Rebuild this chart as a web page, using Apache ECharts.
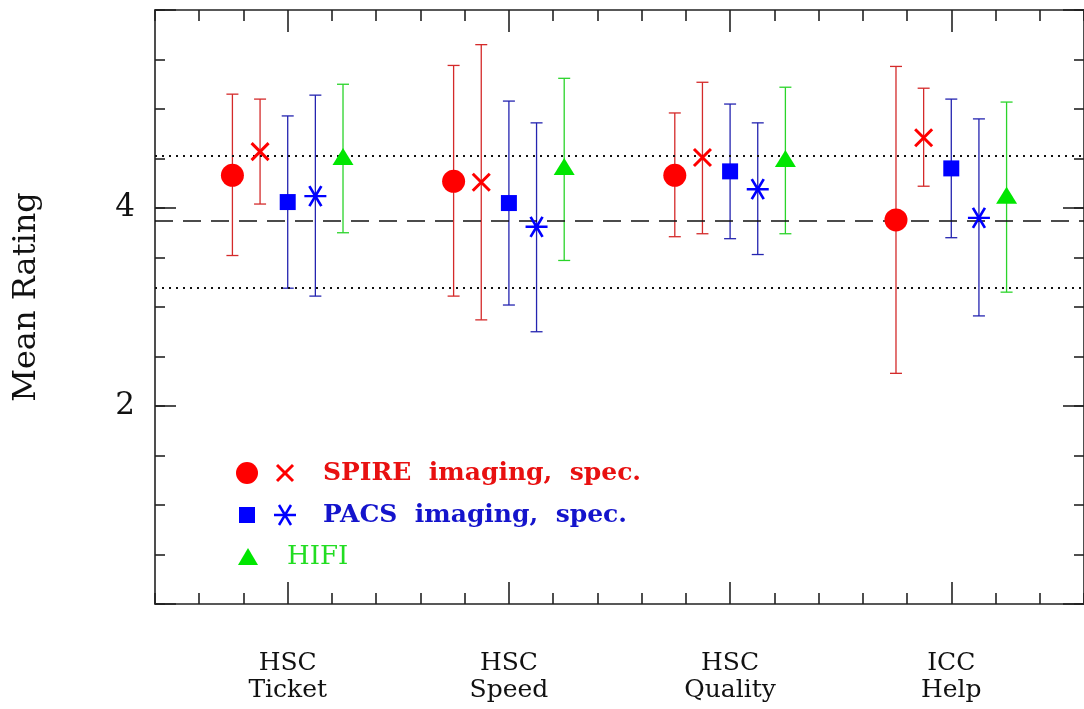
<!DOCTYPE html>
<html>
<head>
<meta charset="utf-8">
<script src="https://cdn.jsdelivr.net/npm/echarts@6/dist/echarts.min.js"></script>
<style>html,body{margin:0;padding:0;background:#fff}#c{width:1084px;height:709px}</style>
</head>
<body>
<div id="c"></div>
<script>
// ---- data ----
const categories = ['HSC\nTicket', 'HSC\nSpeed', 'HSC\nQuality', 'ICC\nHelp'];
const yTickLabels = ['2', '4'];

const spireImgMean = [4.33, 4.27, 4.33, 3.88];
const spireImgHigh = [5.15, 5.44, 4.96, 5.43];
const spireImgLow  = [3.52, 3.11, 3.71, 2.33];

const spireSpecMean = [4.57, 4.26, 4.51, 4.71];
const spireSpecHigh = [5.10, 5.65, 5.27, 5.21];
const spireSpecLow  = [4.04, 2.87, 3.74, 4.22];

const pacsImgMean = [4.06, 4.05, 4.37, 4.40];
const pacsImgHigh = [4.93, 5.08, 5.05, 5.10];
const pacsImgLow  = [3.19, 3.02, 3.69, 3.70];

const pacsSpecMean = [4.12, 3.81, 4.19, 3.90];
const pacsSpecHigh = [5.14, 4.86, 4.86, 4.90];
const pacsSpecLow  = [3.11, 2.75, 3.53, 2.91];

const hifiMean = [4.52, 4.42, 4.50, 4.13];
const hifiHigh = [5.25, 5.31, 5.22, 5.07];
const hifiLow  = [3.75, 3.47, 3.74, 3.15];

const overallMean = 3.87;
const overallUpper = 4.53;
const overallLower = 3.19;

const legendLabels = ['SPIRE  imaging,  spec.', 'PACS  imaging,  spec.', 'HIFI'];

// ---- layout / style ----
const RED = '#ff0000', RED_BAR = '#d42a2a';
const BLUE = '#0000ff', BLUE_BAR = '#2424b0';
const GREEN = '#00e600', GREEN_BAR = '#2ad42a';
const AX = '#222';

const catPos = categories.map((_, i) => i + 1);
const majorX = catPos.slice();
const minorX = [];
for (let k = 2; k <= 23; k++) { const v = Math.round(k * 2) / 10; if (Math.abs(v - Math.round(v)) > 1e-6) minorX.push(v); }

function pts(mean, off) { return mean.map((m, i) => [catPos[i] + off, m]); }
function bars(lo, hi, off) { return lo.map((l, i) => [catPos[i] + off, l, hi[i]]); }

function errRender(color) {
  return function (params, api) {
    const x = api.value(0), lo = api.value(1), hi = api.value(2);
    const a = api.coord([x, hi]), b = api.coord([x, lo]);
    const w = 6;
    const st = { stroke: color, lineWidth: 1.3 };
    return {
      type: 'group',
      children: [
        { type: 'line', shape: { x1: a[0], y1: a[1], x2: b[0], y2: b[1] }, style: st },
        { type: 'line', shape: { x1: a[0] - w, y1: a[1], x2: a[0] + w, y2: a[1] }, style: st },
        { type: 'line', shape: { x1: b[0] - w, y1: b[1], x2: b[0] + w, y2: b[1] }, style: st }
      ]
    };
  };
}
function errSeries(lo, hi, off, color) {
  return {
    type: 'custom', renderItem: errRender(color), data: bars(lo, hi, off),
    encode: { x: 0, y: [1, 2] }, z: 3, silent: true, clip: false
  };
}

const XMARK = 'path://M0,0L20,20M20,0L0,20';
const ASTER = 'path://M0,10L22,10M5,0L17,20M17,0L5,20';

const tickStyle = { color: AX, width: 1.6 };
const serif = 'DejaVu Serif';

function xAx(pos, major, withLabels) {
  return {
    type: 'value', min: 0.4, max: 4.6, position: pos,
    axisLine: { show: true, onZero: false, lineStyle: { color: AX, width: major ? 0 : 1.6, opacity: major ? 0 : 1 } },
    splitLine: { show: false },
    axisTick: { show: true, inside: true, length: major ? 22 : 11, lineStyle: tickStyle, customValues: major ? majorX : minorX },
    axisLabel: withLabels ? {
      show: true, customValues: majorX, margin: 46,
      formatter: v => categories[Math.round(v) - 1] || '',
      fontFamily: serif, fontSize: 25, lineHeight: 27, color: '#111'
    } : { show: false }
  };
}
function yAx(pos, major, withLabels) {
  return {
    type: 'value', min: 0, max: 6, interval: major ? 2 : 0.5, position: pos,
    axisLine: { show: true, onZero: false, lineStyle: { color: AX, width: major ? 0 : 1.6, opacity: major ? 0 : 1 } },
    splitLine: { show: false },
    axisTick: { show: true, inside: true, length: major ? 21 : 10, lineStyle: tickStyle },
    axisLabel: withLabels ? {
      show: true, margin: 20, fontFamily: serif, fontSize: 31, color: '#111',
      formatter: v => { const s = String(v); return yTickLabels.indexOf(s) >= 0 ? s : ''; }
    } : { show: false },
    name: withLabels ? 'Mean Rating' : '',
    nameLocation: 'middle', nameRotate: 90, nameGap: 112,
    nameTextStyle: { fontFamily: serif, fontSize: 32, color: '#111', padding: [0, 0, 0, 20] }
  };
}

const chart = echarts.init(document.getElementById('c'), null, { renderer: 'canvas' });

const legendRows = [
  { y: 473, sym: [{ t: 'circle', x: 247, c: RED }, { t: 'xmark', x: 285, c: RED }], text: legendLabels[0], tx: 323, tc: '#e81010', font: 'bold 25px "DejaVu Serif"' },
  { y: 515, sym: [{ t: 'square', x: 247, c: BLUE }, { t: 'aster', x: 285, c: BLUE }], text: legendLabels[1], tx: 323, tc: '#1414cc', font: 'bold 25px "DejaVu Serif"' },
  { y: 557, sym: [{ t: 'tri', x: 248, c: GREEN }], text: legendLabels[2], tx: 287, tc: '#22dd22', font: '26px "DejaVu Serif"' }
];
const graphics = [];
legendRows.forEach(r => {
  r.sym.forEach(s => {
    if (s.t === 'circle') graphics.push({ type: 'circle', shape: { cx: s.x, cy: r.y, r: 11 }, style: { fill: s.c } });
    if (s.t === 'square') graphics.push({ type: 'rect', shape: { x: s.x - 8, y: r.y - 8, width: 16, height: 16 }, style: { fill: s.c } });
    if (s.t === 'tri') graphics.push({ type: 'polygon', shape: { points: [[s.x, r.y - 9], [s.x + 10, r.y + 8], [s.x - 10, r.y + 8]] }, style: { fill: s.c } });
    if (s.t === 'xmark') graphics.push({ type: 'group', children: [
      { type: 'line', shape: { x1: s.x - 8, y1: r.y - 8, x2: s.x + 8, y2: r.y + 8 }, style: { stroke: s.c, lineWidth: 3 } },
      { type: 'line', shape: { x1: s.x + 8, y1: r.y - 8, x2: s.x - 8, y2: r.y + 8 }, style: { stroke: s.c, lineWidth: 3 } }] });
    if (s.t === 'aster') graphics.push({ type: 'group', children: [
      { type: 'line', shape: { x1: s.x - 11, y1: r.y, x2: s.x + 11, y2: r.y }, style: { stroke: s.c, lineWidth: 2.5 } },
      { type: 'line', shape: { x1: s.x - 6, y1: r.y - 10, x2: s.x + 6, y2: r.y + 10 }, style: { stroke: s.c, lineWidth: 2.5 } },
      { type: 'line', shape: { x1: s.x + 6, y1: r.y - 10, x2: s.x - 6, y2: r.y + 10 }, style: { stroke: s.c, lineWidth: 2.5 } }] });
  });
  graphics.push({ type: 'text', x: r.tx, y: r.y, style: { text: r.text, fill: r.tc, font: r.font, textVerticalAlign: 'middle', textAlign: 'left' } });
});

const OFF = [-0.25, -0.125, 0, 0.125, 0.25];

chart.setOption({
  animation: false,
  backgroundColor: '#fff',
  grid: { left: 155, top: 10, width: 933, height: 594, containLabel: false },
  xAxis: [xAx('bottom', false, false), xAx('bottom', true, true), xAx('top', false, false), xAx('top', true, false)],
  yAxis: [yAx('left', false, false), yAx('left', true, true), yAx('right', false, false), yAx('right', true, false)],
  graphic: graphics,
  series: [
    {
      type: 'scatter', data: [], z: 1, silent: true,
      markLine: {
        silent: true, symbol: 'none', label: { show: false }, animation: false,
        data: [
          { yAxis: overallMean, lineStyle: { type: [18, 10], color: '#111', width: 1.6 } },
          { yAxis: overallUpper, lineStyle: { type: [2, 5], color: '#111', width: 1.8 } },
          { yAxis: overallLower, lineStyle: { type: [2, 5], color: '#111', width: 1.8 } }
        ]
      }
    },
    errSeries(spireImgLow, spireImgHigh, OFF[0], RED_BAR),
    errSeries(spireSpecLow, spireSpecHigh, OFF[1], RED_BAR),
    errSeries(pacsImgLow, pacsImgHigh, OFF[2], BLUE_BAR),
    errSeries(pacsSpecLow, pacsSpecHigh, OFF[3], BLUE_BAR),
    errSeries(hifiLow, hifiHigh, OFF[4], GREEN_BAR),
    { type: 'scatter', data: pts(spireImgMean, OFF[0]), symbol: 'circle', symbolSize: 23, itemStyle: { color: RED, opacity: 1 }, z: 5 },
    { type: 'scatter', data: pts(spireSpecMean, OFF[1]), symbol: XMARK, symbolSize: 17, itemStyle: { color: 'rgba(0,0,0,0)', borderColor: RED, borderWidth: 3, opacity: 1 }, z: 5 },
    { type: 'scatter', data: pts(pacsImgMean, OFF[2]), symbol: 'rect', symbolSize: 16, itemStyle: { color: BLUE, opacity: 1 }, z: 5 },
    { type: 'scatter', data: pts(pacsSpecMean, OFF[3]), symbol: ASTER, symbolSize: [22, 20], itemStyle: { color: 'rgba(0,0,0,0)', borderColor: BLUE, borderWidth: 2.5, opacity: 1 }, z: 5 },
    { type: 'scatter', data: pts(hifiMean, OFF[4]), symbol: 'triangle', symbolSize: [21, 17], itemStyle: { color: GREEN, opacity: 1 }, z: 5 }
  ]
});
</script>
</body>
</html>
